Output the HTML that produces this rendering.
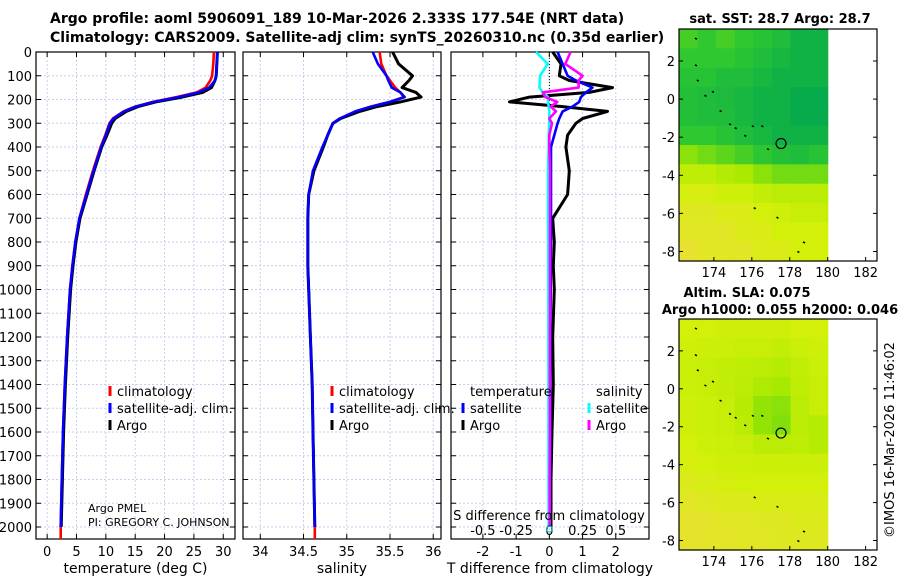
<!DOCTYPE html>
<html><head><meta charset="utf-8"><style>
body{margin:0;background:#fff}
svg{font-family:"DejaVu Sans","Liberation Sans",sans-serif}
</style></head><body>
<svg id="s" width="900" height="580" xmlns="http://www.w3.org/2000/svg">
<rect width="900" height="580" fill="#fff"/>
<text x="50" y="23" font-size="14" font-weight="bold">Argo profile: aoml 5906091_189 10-Mar-2026 2.333S 177.54E (NRT data)</text>
<text x="50" y="42" font-size="14" font-weight="bold">Climatology: CARS2009. Satellite-adj clim: synTS_20260310.nc (0.35d earlier)</text>
<text x="780" y="23" font-size="13" font-weight="bold" text-anchor="middle">sat. SST: 28.7 Argo: 28.7</text>
<text x="747" y="297" font-size="13" font-weight="bold" text-anchor="middle">Altim. SLA: 0.075</text>
<text x="780" y="314" font-size="13" font-weight="bold" text-anchor="middle">Argo h1000: 0.055 h2000: 0.046</text>
<text transform="translate(894,440) rotate(-90)" font-size="13" text-anchor="middle">©IMOS 16-Mar-2026 11:46:02</text>
<g id="g"></g>
</svg>
<script>
// ---- profile data ----
const depth = [0,50,100,120,150,170,190,210,230,250,280,300,350,400,500,600,700,800,900,1000,1200,1400,1600,1800,2000];
const tempArgo = [29.0,28.9,28.8,28.6,28.0,26.5,23.0,18.5,15.5,13.5,11.6,11.0,10.2,9.3,8.0,6.8,5.6,4.9,4.4,4.0,3.5,3.1,2.8,2.6,2.4];
const tempClim = [28.4,28.3,28.1,27.8,27.0,25.5,22.0,18.0,15.0,13.0,11.2,10.6,9.9,9.1,7.8,6.6,5.5,4.8,4.3,3.9,3.4,3.0,2.7,2.5,2.3];
const tempSat  = [29.0,28.9,28.8,28.6,27.6,25.8,22.4,18.2,15.1,13.1,11.3,10.7,10.0,9.2,7.9,6.7,5.5,4.8,4.3,3.9,3.4,3.0,2.7,2.5,2.3];
const salArgo = [35.53,35.60,35.76,35.72,35.64,35.80,35.86,35.62,35.35,35.15,34.93,34.84,34.78,34.73,34.62,34.56,34.55,34.55,34.55,34.56,34.58,34.60,34.61,34.62,34.63];
const salClim = [35.38,35.40,35.46,35.50,35.56,35.62,35.66,35.50,35.28,35.10,34.92,34.84,34.78,34.72,34.61,34.56,34.55,34.55,34.55,34.56,34.58,34.60,34.61,34.62,34.63];
const salSat  = [35.30,35.36,35.46,35.48,35.52,35.62,35.67,35.50,35.28,35.10,34.92,34.84,34.78,34.72,34.61,34.56,34.55,34.55,34.55,34.56,34.58,34.60,34.61,34.62,34.63];
const dTArgo = [0.1,0.35,0.3,0.6,1.9,1.2,-0.6,-1.2,0.4,1.75,1.0,0.8,0.55,0.5,0.6,0.55,0.1,0.15,0.12,0.15,0.1,0.12,0.08,0.05,0.05];
const dTSat  = [0.25,0.4,0.55,0.8,1.3,1.1,0.95,0.9,0.7,0.4,0.3,0.25,0.15,0.05,0.05,0.05,0.05,0.05,0.04,0.04,0.03,0.03,0.03,0.02,0.02];
const dSSat  = [-0.1,-0.012,-0.07,-0.07,-0.075,-0.05,-0.01,-0.01,-0.005,0,0,0,-0.005,-0.005,-0.01,-0.01,-0.01,-0.008,-0.008,-0.007,-0.007,-0.006,-0.006,-0.006,-0.005];
const dSArgo = [0.16,0.12,0.25,0.22,0.22,-0.05,-0.03,0.06,0.01,0.05,0.0,0.02,0.0,0.0,0.005,0.005,0.005,0.005,0.005,0.005,0.004,0.004,0.004,0.003,0.003];
const depthTicks = [0,100,200,300,400,500,600,700,800,900,1000,1100,1200,1300,1400,1500,1600,1700,1800,1900,2000];
const tTicks = [0,5,10,15,20,25,30];
const sTicks = [34,34.5,35,35.5,36];
const dTicks = [-2,-1,0,1,2];
const sdTickLabels = ["-0.5","-0.25","0","0.25","0.5"];
// ---- map data (0 = dark green .. 1 = yellow) ----
const sstGrid = [
[.35,.3,.35,.3,.25,.2,.1,.1],[.3,.3,.3,.25,.2,.15,.1,.1],[.25,.25,.2,.2,.15,.1,.1,.1],
[.22,.2,.18,.15,.1,.1,.05,.05],[.22,.2,.2,.15,.1,.1,.05,.05],[.3,.3,.25,.2,.15,.1,.1,.1],
[.5,.45,.4,.35,.28,.22,.2,.25],[.7,.7,.65,.6,.5,.45,.45,.45],[.82,.82,.78,.78,.72,.68,.68,.68],
[.88,.88,.85,.85,.8,.78,.75,.75],[.9,.9,.9,.85,.85,.8,.8,.8],[.95,.9,.9,.9,.85,.85,.8,.8]];
const slaGrid = [
[.8,.8,.78,.78,.78,.78,.8,.8],[.78,.77,.77,.75,.75,.72,.76,.78],[.76,.74,.72,.7,.68,.66,.72,.76],
[.76,.74,.72,.68,.62,.58,.7,.75],[.78,.76,.74,.66,.52,.5,.68,.75],[.78,.76,.74,.68,.52,.48,.68,.66],
[.8,.78,.76,.74,.68,.68,.7,.66],[.82,.8,.78,.78,.77,.77,.76,.77],[.86,.84,.82,.8,.8,.8,.8,.8],
[.9,.88,.86,.86,.84,.84,.84,.84],[.93,.92,.9,.9,.88,.88,.86,.86],[.93,.92,.92,.9,.9,.88,.88,.88]];
const latTicks = [2,0,-2,-4,-6,-8];
const lonTicks = [174,176,178,180,182];
const argoLon = 177.54, argoLat = -2.333;
const islands = [[173.0,3.2],[173.0,1.8],[173.1,1.0],[173.5,0.2],[173.9,0.4],[174.3,-0.6],[174.8,-1.3],[175.1,-1.5],[175.6,-1.9],[176.0,-1.4],[176.5,-1.4],[176.8,-2.6],[176.1,-5.7],[177.3,-6.2],[178.4,-8.0],[178.7,-7.5]];

const NS='http://www.w3.org/2000/svg', G=document.getElementById('g');
function mk(t,a,p){const e=document.createElementNS(NS,t);for(const k in a)e.setAttribute(k,a[k]);(p||G).appendChild(e);return e;}
function txt(x,y,s,sz,anc,p){const e=mk('text',{x:x,y:y,'font-size':sz||13,'text-anchor':anc||'middle'},p);e.textContent=s;return e;}

const Y0=52, Y1=539, yD=d=>52+d*0.2375;
function panel(name,x0,x1,dmin,dmax,ticks,tickLabels,title,showY){
  const sx=v=>x0+(v-dmin)/(dmax-dmin)*(x1-x0);
  const g=mk('g',{});
  
  
  depthTicks.forEach(d=>{mk('line',{x1:x0,x2:x1,y1:yD(d),y2:yD(d),stroke:'#c8cef0','stroke-dasharray':'2,2','stroke-width':1},g);
    mk('line',{x1:x0,x2:x0+5,y1:yD(d),y2:yD(d),stroke:'#000'},g);mk('line',{x1:x1-5,x2:x1,y1:yD(d),y2:yD(d),stroke:'#000'},g);
    if(showY){const t=txt(32,yD(d)+5,String(d),13,'end',g);}});
  ticks.forEach((v,i)=>{mk('line',{x1:sx(v),x2:sx(v),y1:Y0,y2:Y1,stroke:'#c8cef0','stroke-dasharray':'2,2'},g);
    mk('line',{x1:sx(v),x2:sx(v),y1:Y1-5,y2:Y1,stroke:'#000'},g);mk('line',{x1:sx(v),x2:sx(v),y1:Y0,y2:Y0+5,stroke:'#000'},g);
    txt(sx(v),556,tickLabels[i],13,'middle',g);});
  txt((x0+x1)/2,573,title,14,'middle',g);
  mk('rect',{x:x0,y:Y0,width:x1-x0,height:Y1-Y0,fill:'none',stroke:'#000','stroke-width':1.2},g);
  return {sx,g};
}
function line(p,vals,col,name,w,extend){
  let pts=vals.map((v,i)=>p.sx(v).toFixed(1)+','+yD(depth[i]).toFixed(1));
  if(extend)pts.push(p.sx(vals[vals.length-1]).toFixed(1)+','+Y1);
  const e=mk('polyline',{points:pts.join(' '),fill:'none',stroke:col,'stroke-width':w||2.6,'stroke-linejoin':'round'},p.g);
  
  
}
const P1=panel('temperature-panel',36,235,-1.9,32,tTicks,tTicks.map(String),'temperature (deg C)',true);
line(P1,tempClim,'#f00','temp-climatology-line',2.6,true);
line(P1,tempArgo,'#000','temp-argo-line',3);
line(P1,tempSat,'#00f','temp-satellite-line',2.6);
const P2=panel('salinity-panel',243,441,33.80,36.09,sTicks,sTicks.map(String),'salinity',false);
line(P2,salClim,'#f00','sal-climatology-line',2.6,true);
line(P2,salArgo,'#000','sal-argo-line',3);
line(P2,salSat,'#00f','sal-satellite-line',2.6);
const P3=panel('difference-panel',451,649,-2.96,3,dTicks,dTicks.map(String),'T difference from climatology',false);
mk('line',{x1:P3.sx(0),x2:P3.sx(0),y1:Y0,y2:yD(350),stroke:'#000','stroke-dasharray':'1,2'},P3.g);
line(P3,dTArgo,'#000','tdiff-argo-line',3);
line(P3,dTSat,'#00f','tdiff-satellite-line',2.6);
line(P3,dSSat.map(v=>v*4),'#0ff','sdiff-satellite-line',2.6);
line(P3,dSArgo.map(v=>v*4),'#f0f','sdiff-argo-line',2.6);
txt(549,520,'S difference from climatology',13,'middle',P3.g);
sdTickLabels.forEach((s,i)=>txt(P3.sx(dTicks[i]),535,s,13,'middle',P3.g));
mk('circle',{cx:P3.sx(0),cy:529,r:3,fill:'none',stroke:'#0cc'},P3.g);

function legend(x,items,name){
  const g=mk('g',{});
  items.forEach((it,i)=>{const y=392+i*17;
    if(it[1])mk('line',{x1:x,x2:x,y1:y-6,y2:y+4,stroke:it[1],'stroke-width':3},g);
    txt(x+7,y+4,it[0],13,'start',g);});
}
legend(110,[['climatology','#f00'],['satellite-adj. clim.','#00f'],['Argo','#000']],'temp-legend');
legend(332,[['climatology','#f00'],['satellite-adj. clim.','#00f'],['Argo','#000']],'sal-legend');
legend(463,[['temperature',null],['satellite','#00f'],['Argo','#000']],'tdiff-legend');
legend(589,[['salinity',null],['satellite','#0ff'],['Argo','#f0f']],'sdiff-legend');
txt(88,512,'Argo PMEL',11,'start');
txt(88,526,'PI: GREGORY C. JOHNSON',11,'start');

// ---- maps ----
const stops=[[0,[0,165,80]],[0.3,[48,200,48]],[0.55,[160,232,0]],[0.8,[210,240,10]],[1,[240,220,64]]];
function cmap(v){for(let i=1;i<stops.length;i++){if(v<=stops[i][0]){const a=stops[i-1],b=stops[i],t=(v-a[0])/(b[0]-a[0]);
  return 'rgb('+a[1].map((c,k)=>Math.round(c+(b[1][k]-c)*t)).join(',')+')';}}return 'rgb(240,220,64)';}
function map(name,top,bot,grid){
  const x0=679,x1=877,lonMin=172.16,lonMax=182.6,latMax=3.68,latMin=-8.5;
  const sx=l=>x0+(l-lonMin)/(lonMax-lonMin)*(x1-x0), sy=l=>top+(latMax-l)/(latMax-latMin)*(bot-top);
  const g=mk('g',{});
  const rows=grid.length,cols=grid[0].length,dl=(180-lonMin)/cols,dh=(latMax-latMin)/rows;
  grid.forEach((r,i)=>r.forEach((v,j)=>{
    const c=mk('rect',{x:sx(lonMin+j*dl).toFixed(1),y:sy(latMax-i*dh).toFixed(1),width:(sx(dl)-sx(0)+0.6).toFixed(1),height:(sy(0)-sy(dh)+0.6).toFixed(1),fill:cmap(v)},g);
    
    
  }));
  islands.forEach(p=>mk('line',{x1:sx(p[0]),y1:sy(p[1]),x2:sx(p[0])+2,y2:sy(p[1])+1,stroke:'#000','stroke-width':1.5},g));
  mk('circle',{cx:sx(argoLon),cy:sy(argoLat),r:5,fill:'none',stroke:'#000','stroke-width':1.2},g);
  latTicks.forEach(l=>{mk('line',{x1:x0,x2:x0+4,y1:sy(l),y2:sy(l),stroke:'#000'},g);mk('line',{x1:x1-4,x2:x1,y1:sy(l),y2:sy(l),stroke:'#000'},g);txt(675,sy(l)+5,String(l),13,'end',g);});
  lonTicks.forEach(l=>{mk('line',{x1:sx(l),x2:sx(l),y1:bot-4,y2:bot,stroke:'#000'},g);txt(sx(l),bot+16,String(l),13,'middle',g);});
  mk('rect',{x:x0,y:top,width:x1-x0,height:bot-top,fill:'none',stroke:'#000','stroke-width':1.2},g);
}
map('sst-map',29,261,sstGrid);
map('sla-map',319,550,slaGrid);
</script>
</body></html>
